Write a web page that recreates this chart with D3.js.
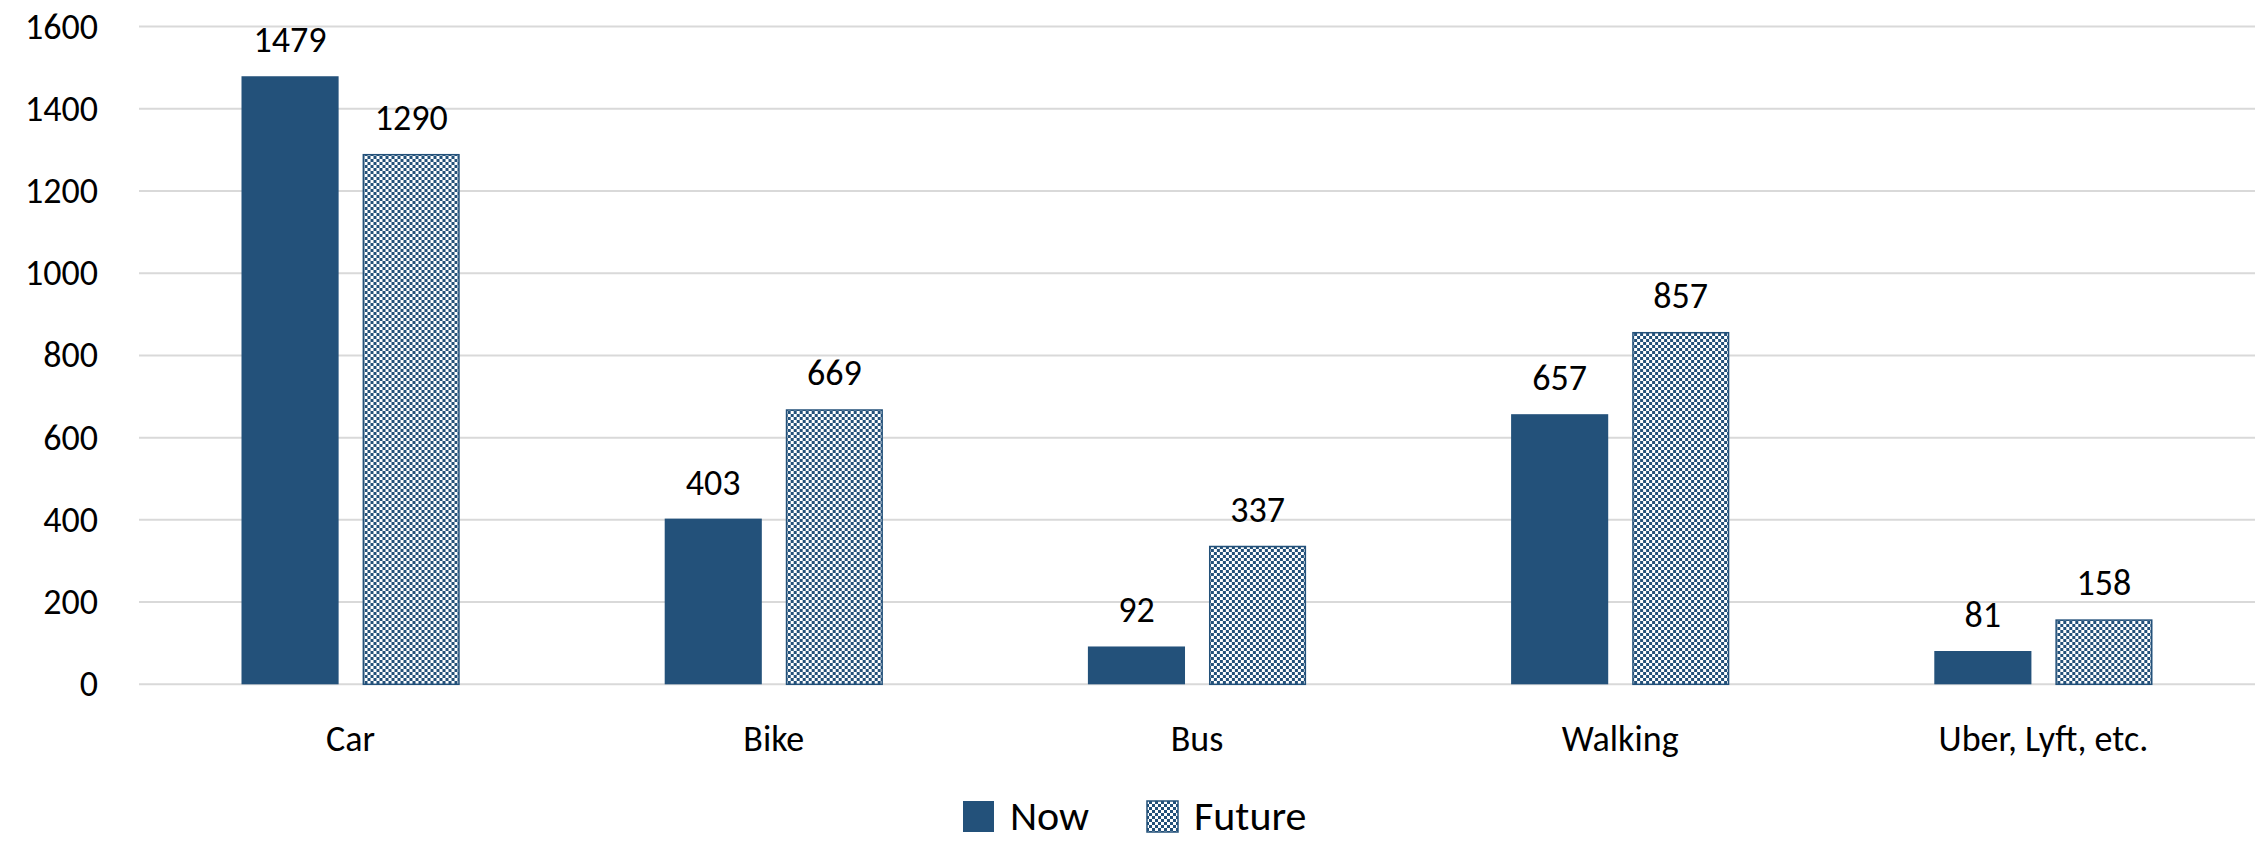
<!DOCTYPE html>
<html>
<head>
<meta charset="utf-8">
<script src="https://cdn.jsdelivr.net/npm/d3@7"></script>
<style>
  body { margin: 0; background: #fff; }
  svg { display: block; font-family: Calibri, Carlito, Lato, sans-serif; }
</style>
</head>
<body>
<svg id="canvas" width="2267" height="844"></svg>
<script>
// chart data
const categories = ["Car", "Bike", "Bus", "Walking", "Uber, Lyft, etc."];
const seriesNames = ["Now", "Future"];
const nowValues = [1479, 403, 92, 657, 81];
const futureValues = [1290, 669, 337, 857, 158];
const yTicks = [0, 200, 400, 600, 800, 1000, 1200, 1400, 1600];

const darkBlue = "#23517a";
const gridColor = "#d9d9d9";

let canvas = d3.select("#canvas");

// plot area
const plotLeft = 139, plotRight = 2255, plotTop = 26.5, plotBottom = 684.3;

// checker pattern for the Future series
let defs = canvas.append("defs");
let pat = defs.append("pattern")
  .attr("id", "checker")
  .attr("width", 6)
  .attr("height", 6)
  .attr("patternUnits", "userSpaceOnUse");
pat.append("rect").attr("width", 6).attr("height", 6).attr("fill", "#fff");
pat.append("rect").attr("width", 3).attr("height", 3).attr("fill", darkBlue);
pat.append("rect").attr("x", 3).attr("y", 3).attr("width", 3).attr("height", 3).attr("fill", darkBlue);

let y = d3.scaleLinear().domain([0, 1600]).range([plotBottom, plotTop]);

let x0 = d3.scaleBand()
  .domain(categories)
  .range([plotLeft, plotRight])
  .paddingInner(0.4844)
  .paddingOuter(0.2422);

let x1 = d3.scaleBand()
  .domain(seriesNames)
  .range([0, x0.bandwidth()])
  .paddingInner(0.198);

// gridlines
let g = canvas.append("g");
g.selectAll("line.grid")
  .data(yTicks)
  .enter()
  .append("line")
  .attr("class", "grid")
  .attr("x1", plotLeft)
  .attr("x2", plotRight)
  .attr("y1", (d) => y(d))
  .attr("y2", (d) => y(d))
  .attr("stroke", gridColor)
  .attr("stroke-width", 2);

// y axis labels
let yAxis = d3.axisLeft(y)
  .tickValues(yTicks)
  .tickFormat(d3.format("d"))
  .tickSize(0)
  .tickPadding(0);
let yg = canvas.append("g")
  .attr("transform", `translate(98,0)`)
  .call(yAxis);
yg.select(".domain").remove();
yg.selectAll("text")
  .attr("font-size", 36)
  .attr("font-family", "Calibri, Carlito, Lato, sans-serif")
  .attr("fill", "#000");

// x axis labels
let xAxis = d3.axisBottom(x0).tickSize(0).tickPadding(0);
let xg = canvas.append("g")
  .attr("transform", `translate(0,${plotBottom})`)
  .call(xAxis);
xg.select(".domain").remove();
xg.selectAll("text")
  .attr("font-size", 36)
  .attr("font-family", "Calibri, Carlito, Lato, sans-serif")
  .attr("fill", "#000")
  .attr("dy", null)
  .attr("y", 67);

// bars
const rows = categories.map((c, i) => ({
  cat: c,
  values: [
    { key: "Now", value: nowValues[i] },
    { key: "Future", value: futureValues[i] },
  ],
}));

let groups = canvas.append("g")
  .selectAll("g")
  .data(rows)
  .enter()
  .append("g")
  .attr("transform", (d) => `translate(${x0(d.cat)},0)`);

groups.selectAll("rect")
  .data((d) => d.values)
  .enter()
  .append("rect")
  .attr("x", (d) => x1(d.key) + (d.key == "Future" ? 0.75 : 0))
  .attr("y", (d) => y(d.value) + (d.key == "Future" ? 0.75 : 0))
  .attr("width", (d) => x1.bandwidth() - (d.key == "Future" ? 1.5 : 0))
  .attr("height", (d) => y(0) - y(d.value) - (d.key == "Future" ? 0.75 : 0))
  .attr("fill", (d) => (d.key == "Now" ? darkBlue : "url(#checker)"))
  .attr("stroke", (d) => (d.key == "Now" ? "none" : darkBlue))
  .attr("stroke-width", 1.5);

groups.selectAll("text")
  .data((d) => d.values)
  .enter()
  .append("text")
  .attr("x", (d) => x1(d.key) + x1.bandwidth() / 2)
  .attr("y", (d) => y(d.value) - 24)
  .attr("text-anchor", "middle")
  .attr("font-size", 36)
  .attr("fill", "#000")
  .text((d) => d.value);

// legend
let legend = canvas.append("g");
const legendItems = [
  { key: "Now", x: 963, fill: darkBlue },
  { key: "Future", x: 1147, fill: "url(#checker)" },
];
legendItems.forEach((item) => {
  legend.append("rect")
    .attr("x", item.x)
    .attr("y", 801)
    .attr("width", 31)
    .attr("height", 31)
    .attr("fill", item.fill)
    .attr("stroke", item.key == "Future" ? darkBlue : "none")
    .attr("stroke-width", 1.5);
  legend.append("text")
    .attr("x", item.x + 47)
    .attr("y", 830)
    .attr("font-size", 42)
    .attr("fill", "#000")
    .text(item.key);
});
</script>
</body>
</html>
